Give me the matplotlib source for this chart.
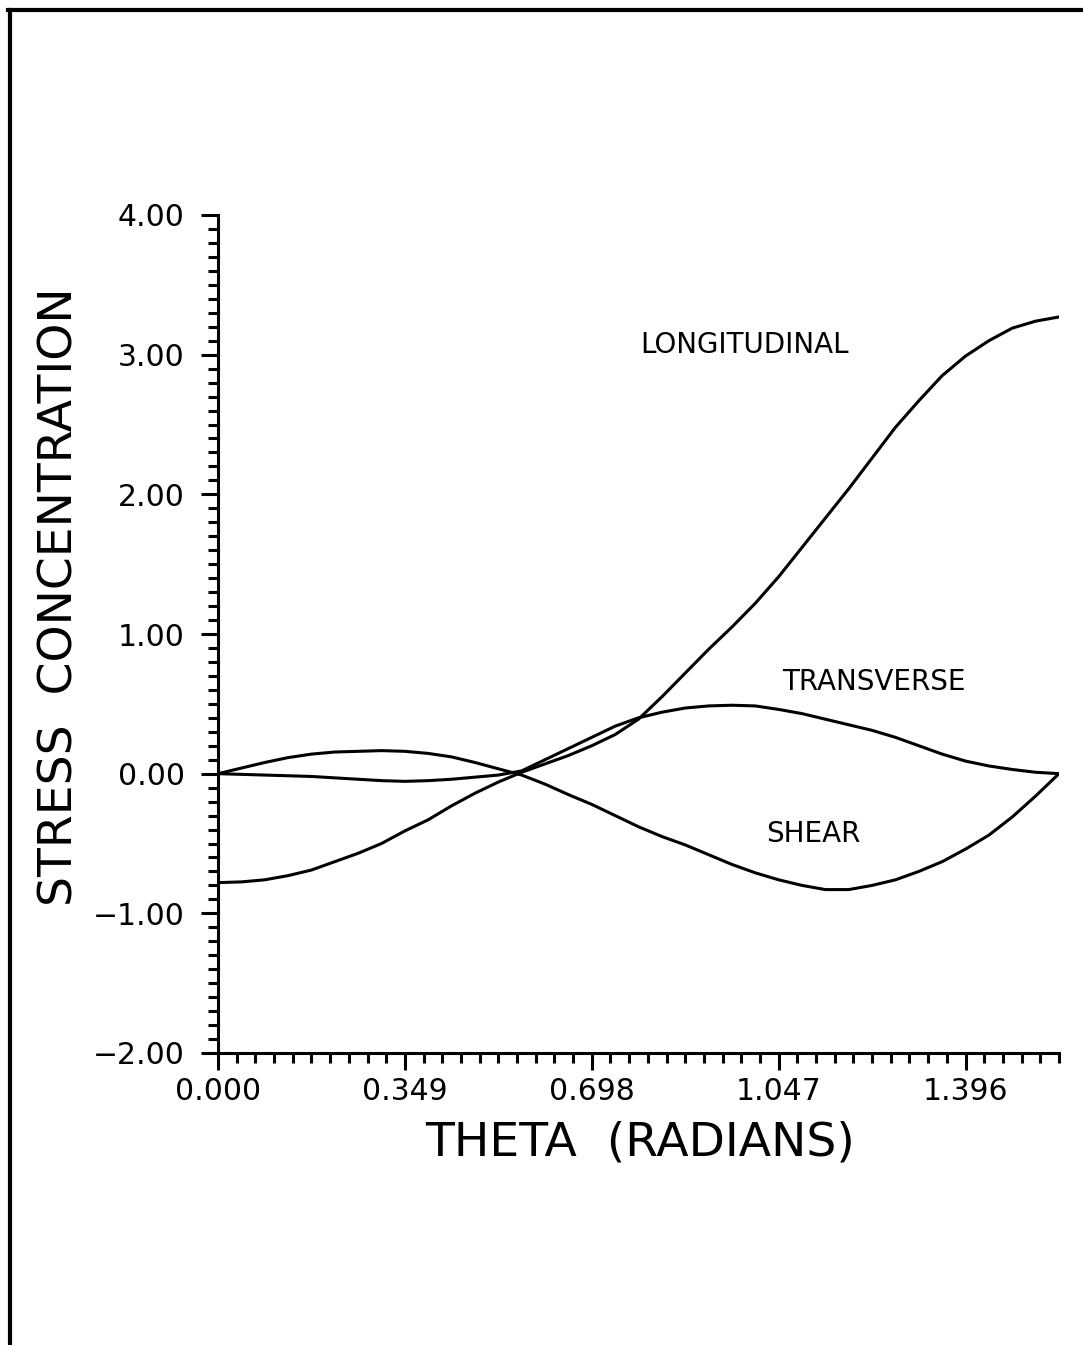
import numpy as np
import matplotlib
matplotlib.use("Agg")
import matplotlib.pyplot as plt
from matplotlib.lines import Line2D
from matplotlib.ticker import FixedLocator, MultipleLocator, FuncFormatter

# ---- data (theta in degrees, 2.5-degree steps) ----
theta_deg = [0, 2.5, 5, 7.5, 10, 12.5, 15, 17.5, 20, 22.5, 25, 27.5, 30, 32.5, 35,
             37.5, 40, 42.5, 45, 47.5, 50, 52.5, 55, 57.5, 60, 62.5, 65, 67.5, 70,
             72.5, 75, 77.5, 80, 82.5, 85, 87.5, 90]
longitudinal = [-0.78, -0.775, -0.76, -0.73, -0.69, -0.63, -0.57, -0.50, -0.41, -0.33,
                -0.23, -0.14, -0.06, 0.01, 0.07, 0.13, 0.20, 0.28, 0.39, 0.55,
                0.72, 0.89, 1.05, 1.22, 1.41, 1.62, 1.83, 2.04, 2.26, 2.48,
                2.67, 2.85, 2.99, 3.10, 3.19, 3.24, 3.27]
transverse = [0.00, -0.005, -0.01, -0.015, -0.02, -0.03, -0.04, -0.05, -0.055, -0.05,
              -0.04, -0.025, -0.01, 0.02, 0.10, 0.18, 0.26, 0.34, 0.40, 0.44,
              0.47, 0.485, 0.49, 0.485, 0.46, 0.43, 0.39, 0.35, 0.31, 0.26,
              0.20, 0.14, 0.09, 0.055, 0.03, 0.01, 0.00]
shear = [0.00, 0.04, 0.08, 0.115, 0.14, 0.155, 0.16, 0.165, 0.16, 0.145,
         0.12, 0.08, 0.035, -0.01, -0.075, -0.15, -0.22, -0.30, -0.38, -0.45,
         -0.51, -0.58, -0.65, -0.71, -0.76, -0.80, -0.83, -0.83, -0.80, -0.76,
         -0.70, -0.63, -0.54, -0.44, -0.31, -0.16, 0.00]

x_tick_values = [0.0, np.pi / 9, 2 * np.pi / 9, 3 * np.pi / 9, 4 * np.pi / 9]
x_tick_labels = ["0.000", "0.349", "0.698", "1.047", "1.396"]
y_ticks = [-2.0, -1.0, 0.0, 1.0, 2.0, 3.0, 4.0]

theta = np.deg2rad(theta_deg)

W, H = 1083, 1345
fig = plt.figure(figsize=(W / 100, H / 100), dpi=100)
plt.rcParams['font.family'] = ['DejaVu Sans']

ax_l, ax_r, ax_t, ax_b = 218, 1059, 215, 1053
ax = fig.add_axes([ax_l / W, 1 - ax_b / H, (ax_r - ax_l) / W, (ax_b - ax_t) / H])

lw = 2.2
ax.plot(theta, longitudinal, color='black', lw=lw, solid_joinstyle='round')
ax.plot(theta, transverse, color='black', lw=lw, solid_joinstyle='round')
ax.plot(theta, shear, color='black', lw=lw, solid_joinstyle='round')

ax.set_xlim(0, np.pi / 2)
ax.set_ylim(-2.0, 4.0)

for s in ['top', 'right']:
    ax.spines[s].set_visible(False)
for s in ['left', 'bottom']:
    ax.spines[s].set_linewidth(2.2)

ax.xaxis.set_major_locator(FixedLocator(x_tick_values))
ax.set_xticklabels(x_tick_labels)
ax.xaxis.set_minor_locator(MultipleLocator(np.pi / 90))
ax.yaxis.set_major_locator(FixedLocator(y_ticks))
ax.yaxis.set_major_formatter(FuncFormatter(lambda v, p: f"{v:.2f}".replace("-", "\u2212")))
ax.yaxis.set_minor_locator(MultipleLocator(0.1))

ax.tick_params(axis='both', which='major', direction='out', length=12, width=2.2,
               labelsize=21.5, color='black')
ax.tick_params(axis='both', which='minor', direction='out', length=7.5, width=2.2,
               color='black')
ax.tick_params(axis='y', which='major', pad=12)
ax.tick_params(axis='x', which='major', pad=5)

# curve labels
ax.text(0.9843, 3.07, "LONGITUDINAL", ha='center', va='center', fontsize=20)
ax.text(1.2253, 0.659, "TRANSVERSE", ha='center', va='center', fontsize=20)
ax.text(1.1113, -0.43, "SHEAR", ha='center', va='center', fontsize=20)

# axis titles
fig.text(60 / W, 1 - 597 / H, "STRESS  CONCENTRATION", rotation=90,
         ha='center', va='center', fontsize=34)
fig.text(640 / W, 1 - 1155 / H, "THETA  (RADIANS)", ha='center', va='baseline',
         fontsize=34)

# page border (top and left)
fig.add_artist(Line2D([8 / W, 1.0], [1 - 10 / H, 1 - 10 / H], color='black', lw=3,
                      transform=fig.transFigure))
fig.add_artist(Line2D([10 / W, 10 / W], [0.0, 1 - 10 / H], color='black', lw=3,
                      transform=fig.transFigure))

fig.savefig("out.png", dpi=100, facecolor='white')
